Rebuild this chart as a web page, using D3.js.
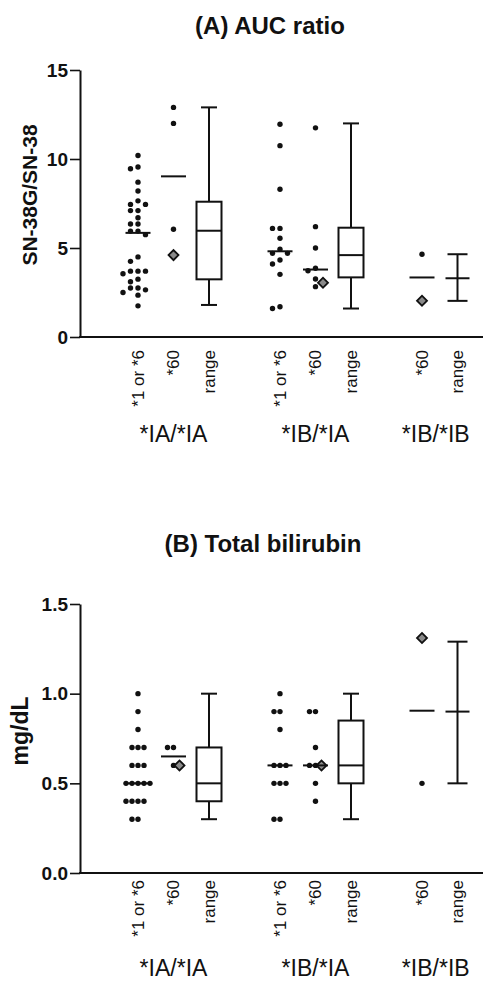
<!DOCTYPE html>
<html>
<head>
<meta charset="utf-8">
<script src="https://cdn.jsdelivr.net/npm/d3@7"></script>
<style>
  body { margin: 0; background: #fff; }
  text { font-family: "Liberation Sans", Arial, sans-serif; fill: #111; }
</style>
</head>
<body>
<svg id="chart" width="483" height="983"></svg>
<script>
// groups and column names
const genotypes = ["*IA/*IA", "*IB/*IA", "*IB/*IB"];
const columnLabels = ["*1 or *6", "*60", "range"];

// (A) AUC ratio SN-38G/SN-38
const aucTicks = [0, 5, 10, 15];
const aucIAIA_1or6 = [10.2, 9.55, 9.45, 8.7, 8.2, 7.65, 7.45, 7.45, 7.1, 7.1, 6.7, 6.35, 6.35, 5.95, 5.95,
                      5.75, 4.5, 4.25, 3.7, 3.7, 3.7, 3.55, 3.25, 3.1, 2.75, 2.75, 2.65, 2.5, 2.35, 1.75];
const aucIAIA_60 = [12.9, 12.0, 6.05];
const aucIAIA_60mark = [4.6];
const aucIBIA_1or6 = [11.95, 10.75, 8.3, 6.1, 6.1, 5.55, 4.93, 4.7, 4.7, 4.33, 4.1, 3.52, 1.7, 1.6];
const aucIBIA_60 = [11.75, 6.2, 5.0, 3.86, 3.72, 3.26, 2.83];
const aucIBIA_60mark = [3.05];
const aucIBIB_60 = [4.65];
const aucIBIB_60mark = [2.04];
// range column: min, Q1, median, Q3, max per genotype (null = no box)
const aucRangeMin = [1.8, 1.6, 2.03];
const aucRangeQ1 = [3.24, 3.35, null];
const aucRangeMed = [5.97, 4.6, 3.3];
const aucRangeQ3 = [7.6, 6.14, null];
const aucRangeMax = [12.9, 12.0, 4.65];

// (B) Total bilirubin mg/dL
const bilTicks = [0, 0.5, 1.0, 1.5];
const bilIAIA_1or6 = [1.0, 0.9, 0.8, 0.7, 0.7, 0.7, 0.6, 0.6, 0.6, 0.5, 0.5, 0.5, 0.5, 0.5,
                      0.4, 0.4, 0.4, 0.4, 0.3, 0.3];
const bilIAIA_60 = [0.7, 0.7, 0.6];
const bilIAIA_60mark = [0.6];
const bilIBIA_1or6 = [1.0, 0.9, 0.9, 0.8, 0.6, 0.6, 0.6, 0.5, 0.5, 0.5, 0.3, 0.3];
const bilIBIA_60 = [0.9, 0.9, 0.7, 0.6, 0.6, 0.5, 0.4];
const bilIBIA_60mark = [0.6];
const bilIBIB_60 = [0.5];
const bilIBIB_60mark = [1.31];
const bilRangeMin = [0.3, 0.3, 0.5];
const bilRangeQ1 = [0.4, 0.5, null];
const bilRangeMed = [0.5, 0.6, 0.9];
const bilRangeQ3 = [0.7, 0.85, null];
const bilRangeMax = [1.0, 1.0, 1.29];

var svg = d3.select("#chart");
svg.append("rect").attr("width", 483).attr("height", 983).attr("fill", "#fff");

var ink = "#111";
var axisX = 80;

// column slots, with empty slots between genotype groups
var slots = ["g0c0", "g0c1", "g0c2", "gap1", "g1c0", "g1c1", "g1c2", "gap2", "g2c1", "g2c2"];
var x = d3.scalePoint().domain(slots).range([138, 457.5]);

// simple beeswarm: put each dot at the nearest free offset
function dodge(dots, marks, y, step, minSep) {
    var placed = [], out = [];
    function place(v, type, order) {
        var py = y(v);
        for (var k of order) {
            var px = k * step;
            if (placed.every(p => Math.hypot(p.x - px, p.y - py) >= minSep)) {
                placed.push({x: px, y: py});
                out.push({v: v, type: type, dx: px});
                return;
            }
        }
        out.push({v: v, type: type, dx: 0});
    }
    dots.slice().sort((a, b) => b - a).forEach(v => place(v, "dot", [0, -1, 1, -2, 2, -3, 3]));
    marks.forEach(v => place(v, "mark", [0, 1, -1, 2, -2]));
    return out;
}

function drawPanel(p) {
    var g = svg.append("g");
    var y = d3.scaleLinear().domain([p.ticks[0], p.ticks[p.ticks.length - 1]]).range([p.base, p.top]);

    g.append("text")
        .attr("x", p.titleX).attr("y", p.titleY)
        .attr("text-anchor", "middle")
        .attr("font-size", 24).attr("font-weight", "bold")
        .text(p.title);

    g.append("text")
        .attr("transform", "translate(" + p.labelX + "," + p.labelY + ") rotate(-90)")
        .attr("text-anchor", "middle")
        .attr("font-size", p.labelSize).attr("font-weight", "bold")
        .text(p.ylabel);

    var ax = g.append("g")
        .attr("transform", "translate(" + axisX + ",0)")
        .call(d3.axisLeft(y).tickValues(p.ticks).tickFormat(p.fmt)
            .tickSize(10).tickSizeOuter(0).tickPadding(2));
    ax.attr("font-family", null).attr("font-size", null);
    ax.select(".domain").attr("stroke", ink).attr("stroke-width", 2);
    ax.selectAll(".tick line").attr("stroke", ink).attr("stroke-width", 1.6);
    ax.selectAll(".tick text").attr("font-size", 19).attr("font-weight", "bold").attr("fill", ink);

    g.append("line")
        .attr("x1", axisX - 1).attr("x2", 483)
        .attr("y1", p.base).attr("y2", p.base)
        .attr("stroke", ink).attr("stroke-width", 2);

    p.groups.forEach(function(grp, gi) {
        var keys = [];
        // dot columns
        [["c0", grp.wt, []], ["c1", grp.v60, grp.v60mark]].forEach(function(col) {
            if (!col[1]) return;
            var key = "g" + gi + col[0];
            keys.push(key);
            var cx = x(key);
            var pts = dodge(col[1], col[2], y, p.step, p.minSep);
            g.selectAll(null).data(pts.filter(d => d.type == "dot")).join("circle")
                .attr("cx", d => cx + d.dx).attr("cy", d => y(d.v))
                .attr("r", 2.7).attr("fill", ink);
            g.selectAll(null).data(pts.filter(d => d.type == "mark")).join("path")
                .attr("d", d3.symbol(d3.symbolSquare, 50))
                .attr("transform", d => "translate(" + (cx + d.dx) + "," + y(d.v) + ") rotate(45)")
                .attr("fill", "#8a8a8a").attr("stroke", ink).attr("stroke-width", 1.8);
            var med = d3.median(col[1].concat(col[2]));
            g.append("line")
                .attr("x1", cx - 12.5).attr("x2", cx + 12.5)
                .attr("y1", y(med)).attr("y2", y(med))
                .attr("stroke", ink).attr("stroke-width", 2);
        });

        // range column
        var rk = "g" + gi + "c2";
        keys.push(rk);
        var rx = x(rk);
        var r = grp.range;
        var cap = r.q1 == null ? 10 : 8;
        var lines = [
            [rx, y(r.max), rx, r.q3 == null ? y(r.min) : y(r.q3)],
            [rx - cap, y(r.max), rx + cap, y(r.max)],
            [rx - cap, y(r.min), rx + cap, y(r.min)],
            [rx - 12, y(r.med), rx + 12, y(r.med)]
        ];
        if (r.q1 != null) lines.push([rx, y(r.q1), rx, y(r.min)]);
        g.selectAll(null).data(lines).join("line")
            .attr("x1", d => d[0]).attr("y1", d => d[1])
            .attr("x2", d => d[2]).attr("y2", d => d[3])
            .attr("stroke", ink).attr("stroke-width", 2);
        if (r.q1 != null) {
            g.append("rect")
                .attr("x", rx - 12.5).attr("width", 25)
                .attr("y", y(r.q3)).attr("height", y(r.q1) - y(r.q3))
                .attr("fill", "none").attr("stroke", ink).attr("stroke-width", 2);
        }

        // rotated column labels
        keys.forEach(function(k) {
            g.append("text")
                .attr("transform", "translate(" + x(k) + "," + (p.base + p.labelGap) + ") rotate(-90)")
                .attr("text-anchor", "end").attr("dy", "0.35em")
                .attr("font-size", 17)
                .text(columnLabels[+k.slice(-1)]);
        });

        // genotype label, the last group sits a little left of its columns
        var gx = d3.mean(keys, k => x(k)) - (keys.length < 3 ? 4 : 0);
        g.append("text")
            .attr("x", gx).attr("y", p.groupY)
            .attr("text-anchor", "middle")
            .attr("font-size", 23)
            .text(genotypes[gi]);
    });
}

function rangeOf(lo, q1, med, q3, hi, i) {
    return {min: lo[i], q1: q1[i], med: med[i], q3: q3[i], max: hi[i]};
}

drawPanel({
    title: "(A) AUC ratio", titleX: 270, titleY: 34,
    ylabel: "SN-38G/SN-38", labelX: 37, labelY: 195, labelSize: 21,
    ticks: aucTicks, fmt: d3.format("d"),
    base: 337, top: 70, labelGap: 13, groupY: 442, step: 7.5, minSep: 6,
    groups: [
        {wt: aucIAIA_1or6, v60: aucIAIA_60, v60mark: aucIAIA_60mark,
         range: rangeOf(aucRangeMin, aucRangeQ1, aucRangeMed, aucRangeQ3, aucRangeMax, 0)},
        {wt: aucIBIA_1or6, v60: aucIBIA_60, v60mark: aucIBIA_60mark,
         range: rangeOf(aucRangeMin, aucRangeQ1, aucRangeMed, aucRangeQ3, aucRangeMax, 1)},
        {wt: null, v60: aucIBIB_60, v60mark: aucIBIB_60mark,
         range: rangeOf(aucRangeMin, aucRangeQ1, aucRangeMed, aucRangeQ3, aucRangeMax, 2)}
    ]
});

drawPanel({
    title: "(B) Total bilirubin", titleX: 263, titleY: 552,
    ylabel: "mg/dL", labelX: 28, labelY: 731, labelSize: 23,
    ticks: bilTicks, fmt: d3.format(".1f"),
    base: 873, top: 604, labelGap: 7, groupY: 976, step: 6, minSep: 6,
    groups: [
        {wt: bilIAIA_1or6, v60: bilIAIA_60, v60mark: bilIAIA_60mark,
         range: rangeOf(bilRangeMin, bilRangeQ1, bilRangeMed, bilRangeQ3, bilRangeMax, 0)},
        {wt: bilIBIA_1or6, v60: bilIBIA_60, v60mark: bilIBIA_60mark,
         range: rangeOf(bilRangeMin, bilRangeQ1, bilRangeMed, bilRangeQ3, bilRangeMax, 1)},
        {wt: null, v60: bilIBIB_60, v60mark: bilIBIB_60mark,
         range: rangeOf(bilRangeMin, bilRangeQ1, bilRangeMed, bilRangeQ3, bilRangeMax, 2)}
    ]
});
</script>
</body>
</html>
